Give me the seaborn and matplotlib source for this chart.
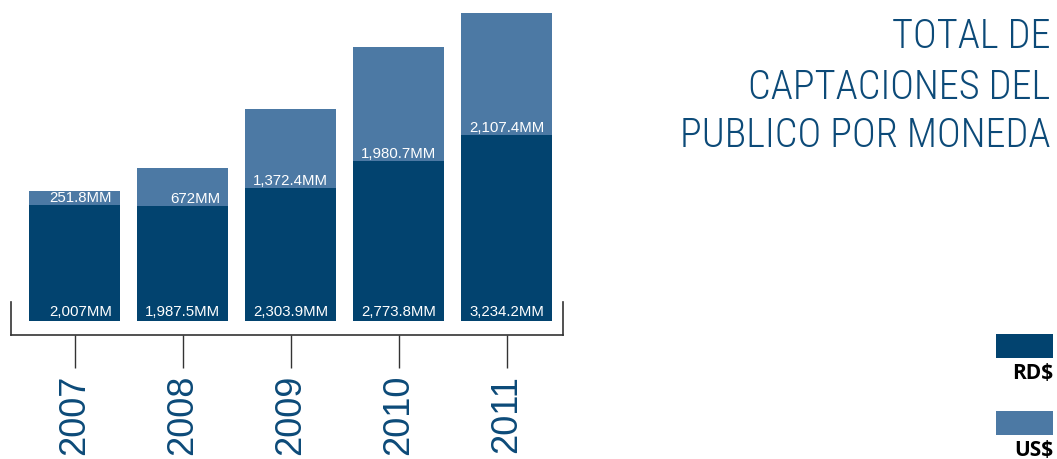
import matplotlib
matplotlib.use("Agg")
import matplotlib.pyplot as plt
from matplotlib.patches import Rectangle
import seaborn as sns
import pandas as pd

# Deposits raised from the public, by currency (millions)
years = ["2007", "2008", "2009", "2010", "2011"]
rd_values = [2007.0, 1987.5, 2303.9, 2773.8, 3234.2]
us_values = [251.8, 672.0, 1372.4, 1980.7, 2107.4]
title_lines = ["TOTAL DE", "CAPTACIONES DEL", "PUBLICO POR MONEDA"]
legend_labels = ["RD$", "US$"]

DARK = "#02436f"
LIGHT = "#4c79a4"
TEXT_BLUE = "#0c4a78"
LINE = "#333333"

sns.set_theme(style="white")
plt.rcParams["font.family"] = ["Liberation Sans", "DejaVu Sans"]

W, H = 1057, 459
fig = plt.figure(figsize=(W / 100, H / 100), dpi=100)

# layout in pixels
base_px = 321      # bar baseline
top_px = 13        # top of the tallest stack
bracket_px = 335   # horizontal bracket line
bracket_end_px = 302
ax_top_px = 6
left_px, right_px = 11, 563
first_px, step_px = 74.5, 108.1

totals = [r + u for r, u in zip(rd_values, us_values)]
scale = (base_px - top_px) / max(totals)
y0 = -(bracket_px - base_px) / scale
y1 = (base_px - ax_top_px) / scale
x0 = (left_px - first_px) / step_px
x1 = (right_px - first_px) / step_px

ax = fig.add_axes([left_px / W, 1 - bracket_px / H,
                   (right_px - left_px) / W, (bracket_px - ax_top_px) / H])

df = pd.DataFrame({"year": years, "rd": rd_values, "us": us_values, "total": totals})
bar_w = 0.84
sns.barplot(data=df, x="year", y="total", color=LIGHT, saturation=1,
            width=bar_w, linewidth=0, ax=ax)
sns.barplot(data=df, x="year", y="rd", color=DARK, saturation=1,
            width=bar_w, linewidth=0, ax=ax)

ax.set_xlim(x0, x1)
ax.set_ylim(y0, y1)
ax.set_xlabel("")
ax.set_ylabel("")
ax.set_yticks([])

# bracket-shaped frame under the bars
ax.spines["top"].set_visible(False)
end_val = (base_px - bracket_end_px) / scale
for side in ("left", "right", "bottom"):
    ax.spines[side].set_visible(True)
    ax.spines[side].set_color(LINE)
    ax.spines[side].set_linewidth(1.2)
ax.spines["left"].set_bounds(y0, end_val)
ax.spines["right"].set_bounds(y0, end_val)

ax.tick_params(axis="x", bottom=True, direction="out", length=33 * 0.72,
               width=1, color=LINE, pad=5, labelsize=26,
               labelcolor=TEXT_BLUE, labelrotation=90)


def fmt(v):
    return f"{v:,.0f}MM" if float(v).is_integer() else f"{v:,.1f}MM"


half = bar_w / 2
for i, (r, u) in enumerate(zip(rd_values, us_values)):
    ax.annotate(fmt(r), xy=(i + half, 0), xytext=(-8, 5),
                textcoords="offset pixels", ha="right", va="baseline",
                color="white", fontsize=10.8)
    ax.annotate(fmt(u), xy=(i + half, r), xytext=(-8, 3),
                textcoords="offset pixels", ha="right", va="baseline",
                color="white", fontsize=10.8)

# title, right aligned
for line, base in zip(title_lines, [48, 99, 147]):
    fig.text(1050 / W, 1 - base / H, line, ha="right", va="baseline",
             fontsize=29, fontweight="light", color=TEXT_BLUE,
             family=["Roboto Condensed", "Liberation Sans", "DejaVu Sans"])

# legend swatches with labels underneath
legend_colors = [DARK, LIGHT]
box_tops = [334, 411]
text_bases = [379, 456]
for lab, col, bt, tb in zip(legend_labels, legend_colors, box_tops, text_bases):
    fig.add_artist(Rectangle((996 / W, 1 - (bt + 24) / H), 57 / W, 24 / H,
                             transform=fig.transFigure, color=col, lw=0))
    fig.text(1053 / W, 1 - tb / H, lab, ha="right", va="baseline",
             fontsize=15, fontweight="bold", color="black",
             family=["Open Sans", "DejaVu Sans"])

fig.savefig("out.png", dpi=100)
